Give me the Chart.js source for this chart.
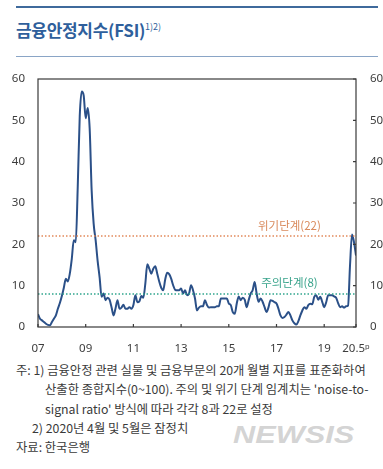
<!DOCTYPE html>
<html>
<head>
<meta charset="utf-8">
<script src="https://cdn.jsdelivr.net/npm/chart.js@4"></script>
<style>
  body { margin: 0; width: 383px; height: 469px; background: #fff; position: relative; overflow: hidden;
         font-family: "Noto Sans CJK KR", "Noto Sans", sans-serif; }
  .rule { position: absolute; left: 16px; width: 362px; }
  #rule1 { top: 6px; height: 2px; background: #3f6a9c; }
  #rule2 { top: 56px; height: 1px; background: #8aa5c6; }
  #title { position: absolute; left: 16px; top: 17px; font-size: 17px; font-weight: bold; color: #2f5f9c; white-space: nowrap; letter-spacing: -0.3px; }
  #title sup { font-size: 9px; font-weight: normal; vertical-align: 7px; letter-spacing: 0; }
  #wrap { position: absolute; left: 0; top: 60px; width: 383px; height: 300px; }
  #notes { position: absolute; left: 16px; top: 361px; font-size: 12.3px; color: #3a3a3a; line-height: 19.3px; white-space: nowrap; }
  #notes .i1 { padding-left: 29px; }
  #notes .i2 { padding-left: 16px; }
  #mark { position: absolute; left: 233px; top: 423px; font-family: "Liberation Sans", sans-serif; font-size: 24px; line-height: 24px;
          font-style: italic; font-weight: bold; color: rgba(200,200,200,0.8); transform: scaleX(1.28); transform-origin: left top; }
</style>
</head>
<body>
<div class="rule" id="rule1"></div>
<div id="title">금융안정지수(FSI)<sup>1)2)</sup></div>
<div class="rule" id="rule2"></div>
<div id="wrap"><canvas id="chart"></canvas></div>
<div id="mark">NEWSIS</div>
<div id="notes">
  <div>주: 1) 금융안정 관련 실물 및 금융부문의 20개 월별 지표를 표준화하여</div>
  <div class="i1">산출한 종합지수(0~100). 주의 및 위기 단계 임계치는 'noise-to-</div>
  <div class="i1">signal ratio' 방식에 따라 각각 8과 22로 설정</div>
  <div class="i2">2) 2020년 4월 및 5월은 잠정치</div>
  <div>자료: 한국은행</div>
</div>
<script>
// monthly FSI, 2007.1 ~ 2020.5
const fsi = [
  3.1, 2.0, 1.6, 1.2, 0.8, 0.5, 0.4, 1.2, 2.0, 2.8, 4.4, 5.8,
  7.5, 9.5, 11.7, 11.0, 12.9, 16.5, 21.0, 20.5, 34, 51, 57, 56,
  50.5, 53, 48, 33, 25, 21, 16, 12, 7.3, 8.1, 6.5, 7.1,
  6.6, 4.8, 2.8, 4.5, 6.5, 4.4, 4.7, 5.4, 4.4, 4.4, 4.8, 4.4,
  5.3, 7.7, 6.0, 6.2, 7.5, 7.1, 10.5, 15.2, 14.1, 12.9, 14.1, 14.7,
  12.9, 11.0, 9.5, 8.9, 11.5, 13.1, 12.8, 11.7, 10.1, 9.0, 8.9, 8.9,
  9.3, 8.1, 8.9, 7.7, 8.1, 10.1, 8.9, 6.9, 4.0, 4.7, 5.0, 5.0,
  6.5, 5.3, 4.7, 4.8, 4.8, 4.8, 5.0, 5.0, 6.9, 6.9, 6.9, 6.9,
  5.7, 5.3, 3.6, 3.2, 5.7, 7.4, 6.5, 7.1, 6.6, 4.8, 6.5, 8.1,
  8.9, 10.9, 8.1, 6.1, 6.9, 6.1, 4.8, 3.6, 4.8, 6.5, 6.3, 6.0,
  5.7, 4.4, 2.8, 2.2, 2.4, 3.0, 3.6, 2.8, 1.6, 0.9, 0.6, 1.4,
  2.8, 4.0, 4.8, 4.4, 5.3, 5.6, 5.5, 7.3, 7.7, 6.6, 7.3, 6.1,
  4.8, 6.0, 7.7, 7.7, 7.7, 7.4, 7.1, 5.8, 4.8, 5.0, 4.7, 5.0,
  5.2, 15, 22.4, 20.5, 17.3
];
const tickMonths = [0, 24, 48, 72, 96, 120, 144, 160];
const tickLabels = ['07', '09', '11', '13', '15', '17', '19', '20.5ᵖ'];
const yTicks = [0, 10, 20, 30, 40, 50, 60];
const crisisLevel = 22;
const cautionLevel = 8;
const crisisLabel = '위기단계(22)';
const cautionLabel = '주의단계(8)';

const lastMonth = fsi.length - 1;
const points = fsi.map((v, i) => ({ x: i, y: v }));

const tickFont = { family: 'Noto Sans', size: 11.5 };
const tickColor = '#3d3d3d';

const frame = {
  id: 'frame',
  afterDatasetsDraw(chart) {
    const { ctx, chartArea: a, scales } = chart;
    ctx.save();
    ctx.strokeStyle = '#3a3a3a';
    ctx.lineWidth = 1.2;
    ctx.strokeRect(a.left, a.top, a.right - a.left, a.bottom - a.top);
    ctx.beginPath();
    tickMonths.forEach(m => {
      const px = scales.x.getPixelForValue(m);
      ctx.moveTo(px, a.bottom);
      ctx.lineTo(px, a.bottom - 3);
    });
    yTicks.forEach(v => {
      const py = scales.y2.getPixelForValue(v);
      ctx.moveTo(a.right, py);
      ctx.lineTo(a.right - 3, py);
    });
    ctx.stroke();

    ctx.font = '11.5px "Noto Sans CJK KR"';
    ctx.textAlign = 'center';
    ctx.textBaseline = 'middle';
    const lx = scales.x.getPixelForValue(126.5);
    ctx.fillStyle = '#d98a5c';
    ctx.fillText(crisisLabel, lx, scales.y.getPixelForValue(crisisLevel) - 10);
    ctx.fillStyle = '#3aa48c';
    ctx.fillText(cautionLabel, lx, scales.y.getPixelForValue(cautionLevel) - 11);
    ctx.restore();
  }
};

new Chart(document.getElementById('chart'), {
  type: 'line',
  data: {
    datasets: [
      {
        data: [{ x: 0, y: crisisLevel }, { x: lastMonth, y: crisisLevel }],
        borderColor: '#e2895a', borderWidth: 1.5, borderDash: [1.5, 2],
        pointRadius: 0
      },
      {
        data: [{ x: 0, y: cautionLevel }, { x: lastMonth, y: cautionLevel }],
        borderColor: '#2fa58d', borderWidth: 1.5, borderDash: [1.5, 2],
        pointRadius: 0
      },
      {
        data: points,
        borderColor: '#2b5088', borderWidth: 2,
        pointRadius: 0, tension: 0.3, cubicInterpolationMode: 'monotone'
      }
    ]
  },
  options: {
    responsive: true,
    maintainAspectRatio: false,
    animation: false,
    layout: { padding: { top: 19, left: 0, right: 0, bottom: 0 } },
    plugins: { legend: { display: false }, tooltip: { enabled: false } },
    scales: {
      x: {
        type: 'linear', min: 0, max: lastMonth,
        grid: { display: false }, border: { display: false },
        afterBuildTicks: s => { s.ticks = tickMonths.map(v => ({ value: v })); },
        afterFit: s => { s.height = 33; },
        ticks: {
          autoSkip: false, maxRotation: 0, padding: 7, color: tickColor, font: tickFont,
          callback: v => tickLabels[tickMonths.indexOf(v)]
        }
      },
      y: {
        position: 'left', min: 0, max: 60,
        grid: { display: false }, border: { display: false },
        afterBuildTicks: s => { s.ticks = yTicks.map(v => ({ value: v })); },
        afterFit: s => { s.width = 38; },
        ticks: { padding: 5, color: tickColor, font: tickFont }
      },
      y2: {
        position: 'right', min: 0, max: 60,
        grid: { display: false }, border: { display: false },
        afterBuildTicks: s => { s.ticks = yTicks.map(v => ({ value: v })); },
        afterFit: s => { s.width = 27; },
        ticks: { padding: 6, color: tickColor, font: tickFont }
      }
    }
  },
  plugins: [frame]
});
</script>
</body>
</html>
